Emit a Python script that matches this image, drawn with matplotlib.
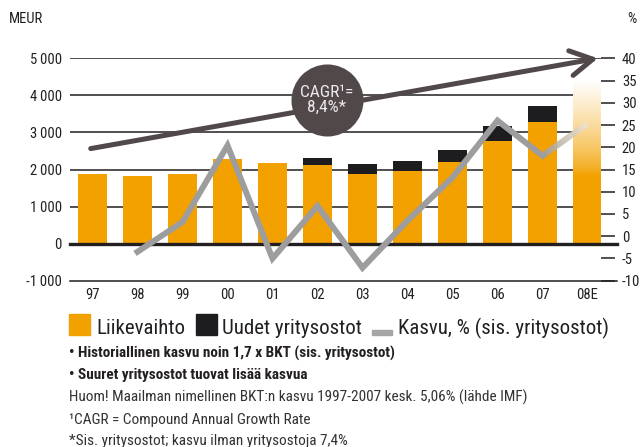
import numpy as np
import matplotlib
matplotlib.use('Agg')
import matplotlib.pyplot as plt
from matplotlib import font_manager as fm
from matplotlib.collections import LineCollection
from matplotlib.patches import Rectangle
from matplotlib.colors import to_rgb

names = {f.name for f in fm.fontManager.ttflist}
FONT = 'DejaVu Sans'
for cand in ['Liberation Sans Narrow', 'DejaVu Sans Condensed', 'Roboto Condensed', 'Roboto', 'Liberation Sans']:
    if cand in names:
        FONT = cand
        break
plt.rcParams['font.family'] = [FONT, 'DejaVu Sans']

# ---- data ----
years = ['97', '98', '99', '00', '01', '02', '03', '04', '05', '06', '07', '08E']
liikevaihto = [1890, 1820, 1890, 2280, 2170, 2120, 1870, 1960, 2200, 2770, 3280, 0]
uudet = [0, 0, 0, 0, 0, 200, 270, 260, 320, 400, 430, 0]
ennuste_08 = 4410
kasvu = [np.nan, -3.5, 3.2, 20.4, -5.0, 6.8, -7.1, 3.5, 13.2, 26.0, 18.1, 25.3]
left_ticks = [-1000, 0, 1000, 2000, 3000, 4000, 5000]
left_labels = ['-1\u2009000', '0', '1\u2009000', '2\u2009000', '3\u2009000', '4\u2009000', '5\u2009000']
right_ticks = [-10, -5, 0, 5, 10, 15, 20, 25, 30, 35, 40]

ORANGE = '#f2a100'
BLACK = '#1d1d20'
GRAY = '#9d9c9e'
DARK = '#231f20'
ARROW = '#51484a'

W, H = 640, 447
fig = plt.figure(figsize=(W / 100, H / 100), dpi=100)
ax_l, ax_r, ax_t, ax_b = 70, 601, 58.3, 280.7
ax = fig.add_axes([ax_l / W, 1 - ax_b / H, (ax_r - ax_l) / W, (ax_b - ax_t) / H])
x = np.arange(len(years))
bw = 0.644

ax.set_xlim(-0.5, 11.3)
ax.set_ylim(-1000, 5000)

# gridlines
for v in [1000, 2000, 3000, 4000, 5000]:
    ax.axhline(v, color=DARK, lw=1.1, zorder=1)
ax.axhline(-1000, xmax=1.03, color=DARK, lw=1.1, zorder=1, clip_on=False)

# bars
lv = np.array(liikevaihto, dtype=float)
ud = np.array(uudet, dtype=float)
ax.bar(x[:-1], lv[:-1], width=bw, color=ORANGE, zorder=2)
ax.bar(x[:-1], ud[:-1], bottom=lv[:-1], width=bw, color=BLACK, zorder=2)

# 08E gradient bar
n = 256
vals = np.linspace(0, ennuste_08, n)
start = 1850
s = np.clip((vals - start) / (ennuste_08 - start), 0, 1) ** 0.75
o = np.array(to_rgb(ORANGE))
wcol = np.array([1.0, 1.0, 1.0])
grad = (o[None, :] * (1 - s[:, None]) + wcol[None, :] * s[:, None])[:, None, :]
ax.imshow(grad, extent=[x[-1] - bw / 2, x[-1] + bw / 2, 0, ennuste_08], origin='lower',
          aspect='auto', zorder=2, interpolation='bilinear')
ax.set_xlim(-0.5, 11.3)
ax.set_ylim(-1000, 5000)

ax.axhline(0, xmax=1.03, color=DARK, lw=2.4, zorder=3, clip_on=False)

ax.set_yticks(left_ticks)
ax.set_yticklabels(left_labels)
ax.set_xticks(x)
ax.set_xticklabels(years)
ax.tick_params(axis='y', length=0, pad=6, labelsize=10.5, labelcolor=DARK)
ax.tick_params(axis='x', length=0, pad=5, labelsize=10.5, labelcolor=DARK)
for sp in ax.spines.values():
    sp.set_visible(False)

# right axis
ax2 = ax.twinx()
ax2.set_ylim(-10, 40)
ax2.set_xlim(-0.5, 11.3)
ax2.set_yticks(right_ticks)
ax2.set_yticklabels([str(t) for t in right_ticks])
ax2.tick_params(axis='y', direction='out', length=10, width=1.1, color=DARK, pad=5,
                labelsize=10.5, labelcolor=DARK)
for sp in ax2.spines.values():
    sp.set_visible(False)

k = np.array(kasvu)
ax2.plot(x[1:-1], k[1:-1], color=GRAY, lw=4.3, solid_joinstyle='miter', zorder=5)
# fading last segment
m = 40
xs = np.linspace(x[-2], x[-1], m + 1)
ys = np.linspace(k[-2], k[-1], m + 1)
segs = [[(xs[i], ys[i]), (xs[i + 1], ys[i + 1])] for i in range(m)]
g = np.array(to_rgb(GRAY))
e = np.array(to_rgb('#f1e3cc'))
cols = [tuple(g * (1 - t) + e * t) for t in np.linspace(0, 1, m)]
ax2.add_collection(LineCollection(segs, colors=cols, linewidths=4.3, capstyle='butt', zorder=5))

# CAGR arrow and circle (right-axis units)
ax2.annotate('', xy=(11.23, 40), xytext=(-0.04, 19.7),
             arrowprops=dict(arrowstyle='->,head_length=0.8,head_width=0.45', color=ARROW,
                             lw=3.6, shrinkA=0, shrinkB=0, mutation_scale=20),
             annotation_clip=False, zorder=6)
ax2.scatter([5.21], [30.6], s=2690, color=ARROW, zorder=7, linewidths=0)
ax2.text(5.21, 30.6, 'CAGR\u00b9=\n8,4%*', ha='center', va='center', color='#ebe9ea',
         fontsize=12.5, linespacing=1.0, zorder=8)

# axis unit labels
fig.text(9 / W, 1 - 19 / H, 'MEUR', fontsize=10.5, color=DARK, va='center', ha='left')
fig.text(627 / W, 1 - 19 / H, '%', fontsize=10.5, color=DARK, va='center', ha='left')

# legend
def fy(py):
    return 1 - py / H

fig.patches.append(Rectangle((69.3 / W, fy(334.7)), 20.7 / W, 20.7 / H, transform=fig.transFigure,
                             color=ORANGE, figure=fig))
fig.text(96 / W, fy(334.5), 'Liikevaihto', fontsize=15, color=DARK, va='baseline')
fig.patches.append(Rectangle((196 / W, fy(334.7)), 20.7 / W, 20.7 / H, transform=fig.transFigure,
                             color=BLACK, figure=fig))
fig.text(221.7 / W, fy(334.5), 'Uudet yritysostot', fontsize=15, color=DARK, va='baseline')
fig.patches.append(Rectangle((372 / W, fy(334.7)), 20 / W, 5 / H, transform=fig.transFigure,
                             color='#a7a5a8', figure=fig))
fig.text(398 / W, fy(334.5), 'Kasvu, % (sis. yritysostot)', fontsize=15, color=DARK, va='baseline')

fig.text(69 / W, fy(358), '\u2022 Historiallinen kasvu noin 1,7 x BKT (sis. yritysostot)', fontsize=11,
         fontweight='bold', color=DARK, va='baseline')
fig.text(69 / W, fy(379), '\u2022 Suuret yritysostot tuovat lis\u00e4\u00e4 kasvua', fontsize=11,
         fontweight='bold', color=DARK, va='baseline')
fig.text(69 / W, fy(402), 'Huom! Maailman nimellinen BKT:n kasvu 1997-2007 kesk. 5,06% (l\u00e4hde IMF)',
         fontsize=11, color='#333133', va='baseline')
fig.text(69 / W, fy(424), '\u00b9CAGR = Compound Annual Growth Rate', fontsize=11, color='#333133',
         va='baseline')
fig.text(69 / W, fy(445), '*Sis. yritysostot; kasvu ilman yritysostoja 7,4%', fontsize=11,
         color='#333133', va='baseline')

fig.savefig('out.png', dpi=100)
